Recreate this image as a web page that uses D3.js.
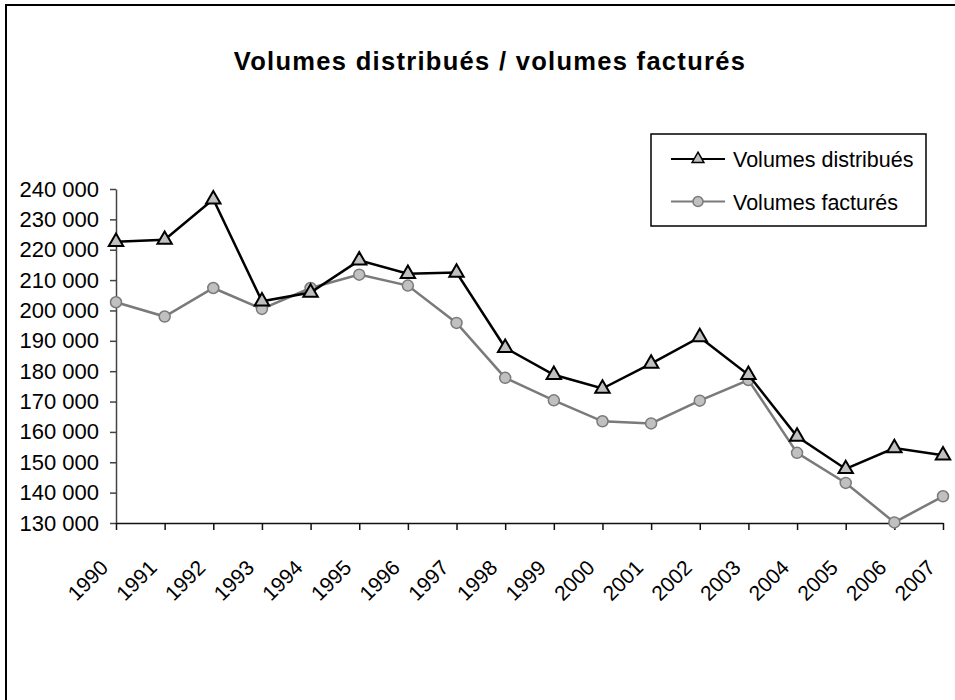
<!DOCTYPE html>
<html>
<head>
<meta charset="utf-8">
<script src="https://cdn.jsdelivr.net/npm/d3@7"></script>
<style>
  body { margin: 0; background: #fff; }
  svg { display: block; font-family: "Liberation Sans", Arial, sans-serif; }
</style>
</head>
<body>
<svg width="955" height="700"></svg>
<script>
var years = ["1990","1991","1992","1993","1994","1995","1996","1997","1998","1999",
  "2000","2001","2002","2003","2004","2005","2006","2007"];
var distribues = [222600, 223300, 236600, 203000, 205900, 216500, 212100, 212500, 187700,
  178800, 174300, 182500, 191200, 178800, 158500, 147800, 154700, 152300];
var factures = [202700, 198000, 207400, 200500, 207400, 211800, 208200, 195900, 177800,
  170400, 163500, 162800, 170300, 177100, 153100, 143200, 130200, 138800];
var yTicks = [130000, 140000, 150000, 160000, 170000, 180000, 190000, 200000, 210000,
  220000, 230000, 240000];

var svg = d3.select("svg");

// frame (only top/left edges fall inside the picture)
svg.append("rect")
  .attr("x", 6).attr("y", 5).attr("width", 1000).attr("height", 800)
  .attr("fill", "none").attr("stroke", "#000").attr("stroke-width", 2);

svg.append("text")
  .attr("x", 490).attr("y", 70)
  .attr("text-anchor", "middle")
  .attr("font-size", 25.5).attr("font-weight", "bold")
  .attr("letter-spacing", 1.3)
  .text("Volumes distribués / volumes facturés");

var plotLeft = 116, plotRight = 943, plotTop = 189, plotBottom = 523;

var x = d3.scalePoint().domain(years).range([plotLeft, plotRight]);
var y = d3.scaleLinear().domain([130000, 240000]).range([plotBottom, plotTop]);

var fmt = function(d) { return d3.format(",")(d).replace(/,/g, " "); };

// y axis
var gy = svg.append("g")
  .attr("transform", "translate(" + plotLeft + ",0)")
  .call(d3.axisLeft(y).tickValues(yTicks).tickFormat(fmt).tickSize(6).tickPadding(11).tickSizeOuter(0));
gy.select(".domain").attr("stroke", "#444").attr("stroke-width", 1.5);
gy.selectAll(".tick line").attr("stroke", "#444").attr("stroke-width", 1.5);
gy.selectAll("text").attr("font-size", 22).attr("fill", "#000")
  .attr("font-family", "Liberation Sans, Arial, sans-serif");

// x axis
var gx = svg.append("g")
  .attr("transform", "translate(0," + plotBottom + ")")
  .call(d3.axisBottom(x).tickSize(7).tickSizeOuter(0));
gx.select(".domain").attr("stroke", "#111").attr("stroke-width", 1.5);
gx.selectAll(".tick line").attr("stroke", "#111").attr("stroke-width", 1.5);
gx.selectAll("text")
  .attr("font-size", 21).attr("fill", "#000")
  .attr("font-family", "Liberation Sans, Arial, sans-serif")
  .attr("text-anchor", "end")
  .attr("x", 0).attr("y", 0).attr("dy", 0)
  .attr("transform", "translate(-7,46) rotate(-45)");

var line = d3.line()
  .x(function(d, i) { return x(years[i]); })
  .y(function(d) { return y(d); });

// factures (grey, circles)
svg.append("path").datum(factures)
  .attr("d", line).attr("fill", "none")
  .attr("stroke", "#7a7a7a").attr("stroke-width", 2.5);
svg.selectAll(".fac").data(factures).enter().append("circle")
  .attr("class", "fac")
  .attr("cx", function(d, i) { return x(years[i]); })
  .attr("cy", function(d) { return y(d); })
  .attr("r", 5.5)
  .attr("fill", "#c0c0c0").attr("stroke", "#7a7a7a").attr("stroke-width", 1.5);

// distribues (black, triangles)
var tri = d3.symbol().type(d3.symbolTriangle).size(90);
svg.append("path").datum(distribues)
  .attr("d", line).attr("fill", "none")
  .attr("stroke", "#000").attr("stroke-width", 2.5);
svg.selectAll(".dis").data(distribues).enter().append("path")
  .attr("class", "dis")
  .attr("d", tri)
  .attr("transform", function(d, i) { return "translate(" + x(years[i]) + "," + y(d) + ")"; })
  .attr("fill", "#c0c0c0").attr("stroke", "#000").attr("stroke-width", 2);

// legend
var lg = svg.append("g");
lg.append("rect")
  .attr("x", 651).attr("y", 134).attr("width", 275).attr("height", 92)
  .attr("fill", "#fff").attr("stroke", "#000").attr("stroke-width", 1.5);
var items = [
  { name: "Volumes distribués", color: "#000", marker: "tri" },
  { name: "Volumes facturés", color: "#7a7a7a", marker: "circle" }
];
items.forEach(function(it, i) {
  var cy = 159 + i * 42.5;
  lg.append("line").attr("x1", 671).attr("x2", 725).attr("y1", cy).attr("y2", cy)
    .attr("stroke", it.color).attr("stroke-width", 2);
  if (it.marker === "tri") {
    lg.append("path").attr("d", d3.symbol().type(d3.symbolTriangle).size(60))
      .attr("transform", "translate(698," + cy + ")")
      .attr("fill", "#c0c0c0").attr("stroke", "#000").attr("stroke-width", 1.5);
  } else {
    lg.append("circle").attr("cx", 698).attr("cy", cy).attr("r", 5)
      .attr("fill", "#c0c0c0").attr("stroke", "#7a7a7a").attr("stroke-width", 1.5);
  }
  lg.append("text").attr("x", 733).attr("y", cy + 8)
    .attr("font-size", 21.5).text(it.name);
});
</script>
</body>
</html>
